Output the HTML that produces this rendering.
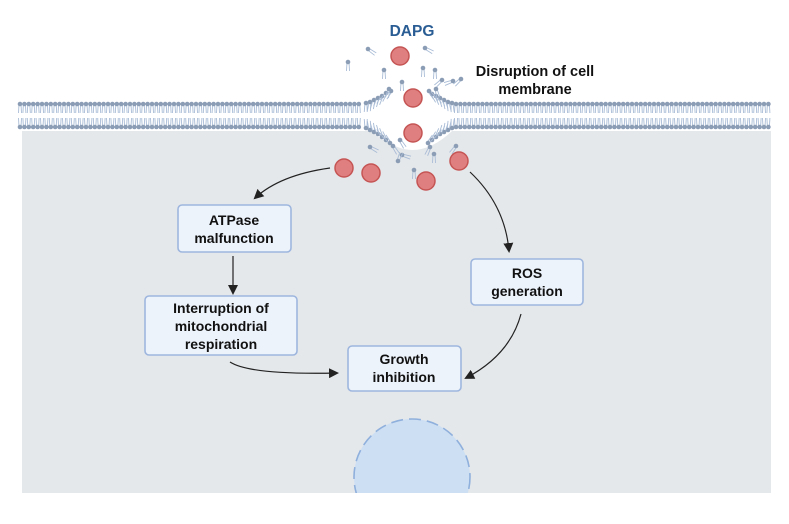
<!DOCTYPE html>
<html><head><meta charset="utf-8"><style>
html,body{margin:0;padding:0;background:#fff;}
svg{display:block;font-family:"Liberation Sans",Arial,sans-serif;}
</style></head><body>
<svg id="s" width="789" height="524" viewBox="0 0 789 524" xmlns="http://www.w3.org/2000/svg">
<defs>
<marker id="ah" markerWidth="10" markerHeight="10" refX="8" refY="5" orient="auto" markerUnits="userSpaceOnUse">
<path d="M0,0 L10,5 L0,10 z" fill="#222"/></marker>
<clipPath id="cc"><rect x="22" y="131" width="749" height="362"/></clipPath>
</defs>
<rect x="0" y="0" width="789" height="524" fill="#fff"/>
<rect x="22" y="131" width="749" height="362" fill="#e5e8eb"/>
<path d="M22,131 L370,131 Q395,150 412,150 Q432,150 452,131 L771,131 L771,127 L22,127z" fill="#fff"/>
<g id="mem"></g>
<circle cx="412" cy="477" r="58" fill="#cddff3" stroke="#8fb0dc" stroke-width="1.6" stroke-dasharray="12,6" clip-path="url(#cc)"/>
<g fill="#e07f7f" stroke="#c55555" stroke-width="1.5">
<circle cx="400" cy="56" r="9"/><circle cx="413" cy="98" r="9"/><circle cx="413" cy="133" r="9"/>
<circle cx="344" cy="168" r="9"/><circle cx="371" cy="173" r="9"/><circle cx="459" cy="161" r="9"/><circle cx="426" cy="181" r="9"/>
</g>
<text x="412" y="36" text-anchor="middle" font-size="15.5" font-weight="bold" fill="#2a5d94">DAPG</text>
<text x="535" y="76" text-anchor="middle" font-size="14.5" font-weight="bold" fill="#111">Disruption of cell</text>
<text x="535" y="94" text-anchor="middle" font-size="14.5" font-weight="bold" fill="#111">membrane</text>
<g fill="none" stroke="#222" stroke-width="1.2" marker-end="url(#ah)">
<path d="M330,168 Q280,175 255,198"/>
<path d="M470,172 Q505,205 509,251"/>
<path d="M233,256 L233,293"/>
<path d="M230,362 Q250,375 337,373"/>
<path d="M521,314 Q510,355 466,378"/>
</g>
<g fill="#edf3fb" stroke="#9db6de" stroke-width="1.6">
<rect x="178" y="205" width="113" height="47" rx="4"/>
<rect x="145" y="296" width="152" height="59" rx="4"/>
<rect x="471" y="259" width="112" height="46" rx="4"/>
<rect x="348" y="346" width="113" height="45" rx="4"/>
</g>
<g font-size="14" font-weight="bold" fill="#111" text-anchor="middle">
<text x="234" y="225">ATPase</text><text x="234" y="243">malfunction</text>
<text x="221" y="313">Interruption of</text><text x="221" y="331">mitochondrial</text><text x="221" y="349">respiration</text>
<text x="527" y="278">ROS</text><text x="527" y="296">generation</text>
<text x="404" y="364">Growth</text><text x="404" y="382">inhibition</text>
</g>
</svg>
<script>
(function(){
var g=document.getElementById('mem'),h='';
function lip(x,y,ang){
 var dx=Math.cos(ang),dy=Math.sin(ang),px=-dy,py=dx;
 h+='<line x1="'+(x+px*1)+'" y1="'+(y+py*1)+'" x2="'+(x+dx*9+px*1.5)+'" y2="'+(y+dy*9+py*1.5)+'" stroke="#a9bcd6" stroke-width="0.9"/>';
 h+='<line x1="'+(x-px*1)+'" y1="'+(y-py*1)+'" x2="'+(x+dx*9-px*1.5)+'" y2="'+(y+dy*9-py*1.5)+'" stroke="#a9bcd6" stroke-width="0.9"/>';
 h+='<circle cx="'+x+'" cy="'+y+'" r="2.3" fill="#8b9cb5"/>';
}
var x;
for(x=20;x<=362;x+=4.4){lip(x,104,Math.PI/2);lip(x,127,-Math.PI/2);}
for(x=456;x<=770;x+=4.4){lip(x,104,Math.PI/2);lip(x,127,-Math.PI/2);}
var c=[[366,103,1.6],[370,102,1.7],[374,100,1.8],[378,98,1.9],[382,96,2.0],[386,93,2.1],[391,91,2.2],
[452,103,1.5],[448,102,1.4],[444,100,1.3],[440,98,1.2],[436,96,1.1],[432,94,1.0],[429,91,0.9]];
c.forEach(function(p){lip(p[0],p[1],p[2]);});
var d=[[366,128,-1.6],[370,130,-1.7],[374,132,-1.8],[378,134,-1.9],[382,137,-2.0],[386,140,-2.1],[390,143,-2.2],
[452,128,-1.5],[448,130,-1.4],[444,132,-1.3],[440,134,-1.2],[436,137,-1.1],[432,140,-1.0],[428,143,-0.9]];
d.forEach(function(p){lip(p[0],p[1],p[2]);});
var f=[[368,49,0.6],[425,48,0.5],[348,62,1.57],[384,70,1.57],[402,82,1.57],[423,68,1.57],[435,70,1.57],[442,80,2.4],[453,81,2.8],[461,79,2.4],
[389,89,1.8],[436,89,1.3],[370,147,0.5],[393,146,1.0],[402,155,0.3],[430,147,2.0],[434,154,1.57],[456,146,2.2],[398,161,-1.2],[414,170,1.57],[400,140,1.0]];
f.forEach(function(p){lip(p[0],p[1],p[2]);});
g.innerHTML=h;
})();
</script>
</body></html>
